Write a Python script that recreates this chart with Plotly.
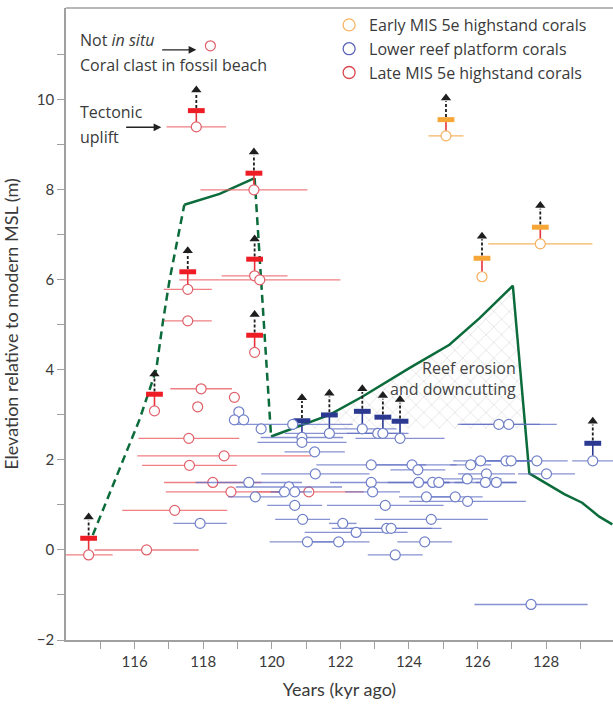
import plotly.graph_objects as go

# ---------------- data ----------------
# Late MIS 5e highstand corals (red): age (kyr), elevation (m), age error (kyr)
red_age = [118.21, 117.80, 119.48, 117.55, 117.55, 119.50, 119.65, 119.50, 117.94, 116.58,
           117.84, 118.91, 117.58, 118.61, 117.60, 118.28, 118.81, 121.08, 117.17, 116.35, 114.66]
red_elev = [11.2, 9.4, 8.0, 5.79, 5.09, 6.09, 6.0, 4.39, 3.58, 3.09,
            3.18, 3.39, 2.48, 2.09, 1.88, 1.50, 1.29, 1.29, 0.88, 0.0, -0.11]
red_err = [0.0, 0.87, 1.56, 0.7, 0.7, 0.96, 2.35, 0.06, 0.9, 0.05,
           0.05, 0.06, 1.47, 2.53, 1.38, 1.42, 1.9, 1.6, 1.53, 1.52, 0.7]

# Early MIS 5e highstand corals (orange)
orange_age = [125.08, 126.13, 127.83]
orange_elev = [9.2, 6.07, 6.8]
orange_err = [0.51, 0.05, 1.52]

# Lower reef platform corals (blue)
blue_age = [119.04, 118.91, 119.18, 120.61, 126.62, 126.91, 119.69, 122.64, 121.68, 123.09,
            123.24, 120.88, 123.74, 120.88, 121.25, 126.09, 126.83, 126.98, 127.73, 129.36,
            122.90, 124.09, 125.80, 124.26, 121.27, 126.26, 128.01, 125.70, 119.33, 122.90,
            124.28, 124.69, 124.87, 126.23, 126.55, 120.50, 120.37, 120.67, 122.94, 119.52,
            124.51, 125.35, 125.71, 120.67, 123.31, 120.90, 124.65, 117.91, 122.07, 123.35,
            123.48, 122.46, 121.04, 121.95, 124.46, 123.60, 127.56]
blue_elev = [3.07, 2.89, 2.89, 2.79, 2.79, 2.79, 2.69, 2.69, 2.59, 2.59,
             2.59, 2.5, 2.48, 2.39, 2.18, 1.98, 1.98, 1.98, 1.98, 1.98,
             1.89, 1.89, 1.89, 1.78, 1.69, 1.69, 1.69, 1.58, 1.50, 1.50,
             1.50, 1.50, 1.50, 1.50, 1.50, 1.40, 1.29, 1.29, 1.29, 1.18,
             1.18, 1.18, 1.08, 0.99, 0.99, 0.68, 0.68, 0.59, 0.59, 0.48,
             0.48, 0.39, 0.18, 0.18, 0.18, -0.11, -1.21]
blue_err = [0.08, 0.08, 0.08, 1.75, 1.2, 1.4, 0.1, 1.0, 1.3, 0.9,
            0.6, 1.2, 1.3, 1.3, 0.88, 0.8, 0.9, 0.7, 0.9, 0.6,
            1.6, 1.3, 0.6, 0.8, 1.58, 0.83, 0.83, 1.0, 1.55, 1.2,
            0.9, 0.5, 0.8, 0.9, 0.6, 1.55, 0.4, 0.5, 0.8, 0.8,
            0.8, 0.8, 1.7, 0.8, 1.7, 0.8, 1.65, 0.78, 0.4, 1.6,
            1.2, 1.5, 1.1, 0.9, 0.8, 0.8, 1.65]

# Tectonic-uplift corrected (minimum) elevations: age, sample elev, corrected elev, arrow tip
red_up_age = [114.66, 116.58, 117.55, 117.80, 119.48, 119.50, 119.50]
red_up_sample = [-0.11, 3.09, 5.79, 9.4, 8.0, 6.09, 4.39]
red_up_corr = [0.26, 3.46, 6.18, 9.76, 8.37, 6.46, 4.77]
red_up_tip = [0.82, 4.0, 6.74, 10.31, 8.93, 7.0, 5.32]

orange_up_age = [125.08, 126.13, 127.83]
orange_up_sample = [9.2, 6.07, 6.8]
orange_up_corr = [9.56, 6.48, 7.17]
orange_up_tip = [10.13, 7.06, 7.74]

blue_up_age = [120.88, 121.68, 122.64, 123.24, 123.74, 129.36]
blue_up_sample = [2.5, 2.59, 2.69, 2.59, 2.48, 1.98]
blue_up_corr = [2.87, 3.0, 3.08, 2.95, 2.86, 2.37]
blue_up_tip = [3.47, 3.57, 3.67, 3.52, 3.43, 2.95]

# Sea-level reconstruction (green)
sl_rise_x = [114.78, 116.14, 116.63, 116.82, 117.02, 117.45]
sl_rise_y = [0.33, 2.89, 4.0, 5.04, 6.0, 7.67]
sl_high_x = [117.45, 118.48, 119.50]
sl_high_y = [7.67, 7.91, 8.26]
sl_drop_x = [119.50, 119.98]
sl_drop_y = [8.26, 2.52]
sl_late_x = [119.98, 121.68, 122.65, 124.01, 125.18, 126.06, 127.03, 127.51, 128.53, 129.05, 129.55, 129.93]
sl_late_y = [2.52, 3.0, 3.41, 4.04, 4.56, 5.15, 5.87, 1.70, 1.24, 1.05, 0.74, 0.57]

# Reef erosion / downcutting zone
erosion_x = [120.6, 121.68, 122.65, 124.01, 125.18, 126.06, 127.03, 127.40, 120.6]
erosion_y = [2.7, 3.0, 3.41, 4.04, 4.56, 5.15, 5.87, 2.7, 2.7]

x_tickvals = list(range(115, 130))
x_ticktext = ["" if v % 2 else str(v) for v in x_tickvals]
y_tickvals = list(range(-2, 12))
y_ticktext = ["" if v % 2 else ("\u2212" + str(-v) if v < 0 else str(v)) for v in y_tickvals]

# ---------------- styles ----------------
FONT = "Lato, 'Open Sans', sans-serif"
FONT2 = "'Open Sans', Lato, sans-serif"
TXT = "#3a3a3a"
RED_LINE = "rgba(235,95,100,0.8)"
RED_MK = "#e0606a"
BLUE_LINE = "rgba(95,110,195,0.75)"
BLUE_MK = "#7080c8"
ORANGE_LINE = "#f7b462"
ORANGE_MK = "#f5b060"
GREEN = "#0b6b3a"

fig = go.Figure()

# hatched erosion zone
fig.add_trace(go.Scatter(
    x=erosion_x, y=erosion_y, mode="lines", fill="toself",
    line=dict(width=0, color="rgba(0,0,0,0)"), fillcolor="rgba(0,0,0,0)",
    fillpattern=dict(shape="x", fgcolor="#c6c6c6", size=11, solidity=0.14),
    showlegend=False, hoverinfo="skip"))

# green sea-level curve
for xs, ys, dash in [(sl_rise_x, sl_rise_y, "8px,5px"), (sl_high_x, sl_high_y, "solid"),
                     (sl_drop_x, sl_drop_y, "8px,5px"), (sl_late_x, sl_late_y, "solid")]:
    fig.add_trace(go.Scatter(x=xs, y=ys, mode="lines",
                             line=dict(color=GREEN, width=2.5, dash=dash),
                             showlegend=False, hoverinfo="skip"))


def uplift(ages, sample, corr, tip, conn_color, bar_color):
    cx, cy, ax_, ay_ = [], [], [], []
    for a, s, c, t in zip(ages, sample, corr, tip):
        cx += [a, a, None]
        cy += [s, c, None]
        ax_ += [a, a, None]
        ay_ += [c + 0.06, t - 0.16, None]
    fig.add_trace(go.Scatter(x=cx, y=cy, mode="lines", line=dict(color=conn_color, width=1.6),
                             showlegend=False, hoverinfo="skip"))
    fig.add_trace(go.Scatter(x=ax_, y=ay_, mode="lines",
                             line=dict(color="#1e1e1e", width=1.8, dash="3px,2px"),
                             showlegend=False, hoverinfo="skip"))
    fig.add_trace(go.Scatter(x=ages, y=[t - 0.09 for t in tip], mode="markers",
                             marker=dict(symbol="triangle-up", size=9, color="#1e1e1e"),
                             showlegend=False, hoverinfo="skip"))
    fig.add_trace(go.Scatter(x=ages, y=corr, mode="markers",
                             marker=dict(symbol="line-ew", size=12,
                                         line=dict(width=5, color=bar_color)),
                             showlegend=False, hoverinfo="skip"))


uplift(red_up_age, red_up_sample, red_up_corr, red_up_tip, "#e8323a", "#ee1c25")
uplift(orange_up_age, orange_up_sample, orange_up_corr, orange_up_tip, "#e8323a", "#f7a738")
uplift(blue_up_age, blue_up_sample, blue_up_corr, blue_up_tip, "#2b3990", "#2b3990")

# data points with age uncertainties
for xs, ys, es, lc, mc in [(red_age, red_elev, red_err, RED_LINE, RED_MK),
                           (blue_age, blue_elev, blue_err, BLUE_LINE, BLUE_MK),
                           (orange_age, orange_elev, orange_err, ORANGE_LINE, ORANGE_MK)]:
    fig.add_trace(go.Scatter(
        x=xs, y=ys, mode="markers",
        error_x=dict(type="data", array=es, color=lc, thickness=1.4, width=0),
        marker=dict(symbol="circle", size=10, color="white", line=dict(color=mc, width=1.2)),
        showlegend=False))

# legend entries
for name, c in [("Early MIS 5e highstand corals", "#f7b462"),
                ("Lower reef platform corals", "#5b63b7"),
                ("Late MIS 5e highstand corals", "#d9474f")]:
    fig.add_trace(go.Scatter(x=[None], y=[None], mode="markers", name=name,
                             marker=dict(symbol="circle-open", size=12, color=c,
                                         line=dict(width=1.3))))

AF = dict(family=FONT2, size=16, color=TXT)
annotations = [
    dict(x=114.34, y=11.32, text="Not <i>in situ</i>", showarrow=False, xanchor="left", font=AF),
    dict(x=114.34, y=10.78, text="Coral clast in fossil beach", showarrow=False, xanchor="left", font=AF),
    dict(x=114.34, y=9.74, text="Tectonic", showarrow=False, xanchor="left", font=AF),
    dict(x=114.34, y=9.17, text="uplift", showarrow=False, xanchor="left", font=AF),
    dict(x=117.80, y=11.11, ax=116.76, ay=11.11, axref="x", ayref="y", text="",
         showarrow=True, arrowhead=2, arrowsize=1.1, arrowwidth=1.4, arrowcolor="#222"),
    dict(x=116.78, y=9.39, ax=115.71, ay=9.39, axref="x", ayref="y", text="",
         showarrow=True, arrowhead=2, arrowsize=1.1, arrowwidth=1.4, arrowcolor="#222"),
    dict(x=127.19, y=3.82, text="Reef erosion<br>and downcutting", showarrow=False,
         xanchor="right", align="right", font=dict(family=FONT2, size=16, color="#444")),
]

fig.update_layout(
    width=613, height=706,
    margin=dict(l=66, r=0, t=8, b=66, autoexpand=False),
    paper_bgcolor="white", plot_bgcolor="white",
    font=dict(family=FONT, size=15, color=TXT),
    annotations=annotations,
    showlegend=True,
    legend=dict(x=0.481, y=1.0, xanchor="left", yanchor="top",
                bgcolor="rgba(0,0,0,0)", font=dict(family=FONT2, size=16, color=TXT),
                itemsizing="trace", tracegroupgap=0),
    shapes=[dict(type="line", xref="paper", yref="paper", x0=0, x1=1, y0=1, y1=1,
                 line=dict(color="#a0a0a0", width=1.5))],
    xaxis=dict(range=[114, 129.95], tickvals=x_tickvals, ticktext=x_ticktext,
               ticks="outside", ticklen=7, tickcolor="#a0a0a0", tickwidth=1,
               showline=True, linecolor="#a0a0a0", linewidth=1.5, showgrid=False,
               zeroline=False, automargin=False, title=dict(text="Years (kyr ago)"),
               tickfont=dict(size=15, color=TXT)),
    yaxis=dict(range=[-2, 12.04], tickvals=y_tickvals, ticktext=y_ticktext,
               ticks="outside", ticklen=7, tickcolor="#a0a0a0", tickwidth=1,
               showline=True, linecolor="#a0a0a0", linewidth=1.5, showgrid=False,
               zeroline=False, automargin=False,
               title=dict(text="Elevation relative to modern MSL (m)"),
               tickfont=dict(size=15, color=TXT)),
)

fig.write_html("out.html", config={"displayModeBar": False},
               post_script="document.body.style.margin='0';document.body.style.overflow='hidden';")
